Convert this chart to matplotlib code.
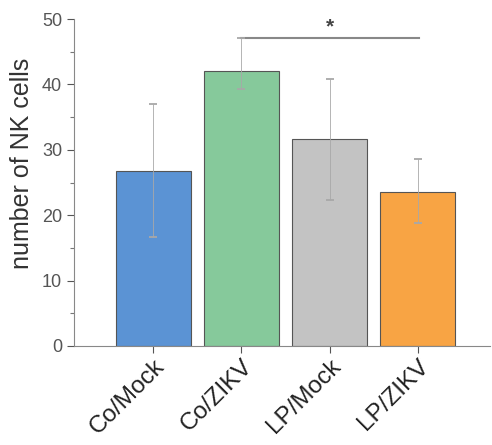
import numpy as np
import matplotlib.pyplot as plt
from matplotlib.ticker import MultipleLocator

# Data
groups = ['Co/Mock', 'Co/ZIKV', 'LP/Mock', 'LP/ZIKV']
means = [26.8, 42.0, 31.6, 23.6]
err_low = [10.2, 2.7, 9.3, 4.8]
err_high = [10.2, 5.1, 9.2, 5.0]
colors = ['#5b93d4', '#86c99b', '#c3c3c3', '#f8a444']
sig_pair = (1, 3)
sig_height = 47.1

plt.rcParams['font.family'] = ['Liberation Sans', 'DejaVu Sans']

fig = plt.figure(figsize=(4.92, 4.45), dpi=100)
ax = fig.add_axes([74 / 492, 1 - 346 / 445, (490 - 74) / 492, (346 - 19) / 445])

x = np.arange(1, len(groups) + 1)
ax.bar(x, means, width=0.85, color=colors, edgecolor='#555555', linewidth=0.8, zorder=2)
ax.errorbar(x, means, yerr=[err_low, err_high], fmt='none', ecolor='#a8a8a8',
            elinewidth=0.6, capsize=3, capthick=1.3, zorder=3)

# significance bar
x1, x2 = x[sig_pair[0]], x[sig_pair[1]]
ax.plot([x1, x2 + 0.02], [sig_height, sig_height], color='#888888', lw=1.5, clip_on=False)
ax.text((x1 + x2) / 2, sig_height + 0.3, '*', ha='center', va='bottom', fontsize=15,
        fontweight='bold', color='#444444')

ax.set_xlim(0.1, 4.82)
ax.set_ylim(0, 50)
ax.yaxis.set_major_locator(MultipleLocator(10))
ax.yaxis.set_minor_locator(MultipleLocator(5))
ax.set_xticks(x)
ax.set_xticklabels(groups, rotation=45, ha='right', va='top', rotation_mode='anchor',
                   fontsize=17.5, color='#222222')
ax.tick_params(axis='y', labelsize=13, colors='#555555', length=5, width=0.8)
ax.tick_params(axis='y', which='minor', length=3, width=0.8, colors='#777777')
ax.tick_params(axis='x', length=5, width=0.8, colors='#555555', labelcolor='#222222', pad=2)
ax.set_ylabel('number of NK cells', fontsize=18, color='#333333')
ax.yaxis.set_label_coords(-0.095, 0.56)

for s in ['top', 'right']:
    ax.spines[s].set_visible(False)
for s in ['left', 'bottom']:
    ax.spines[s].set_color('#888888')
    ax.spines[s].set_linewidth(0.8)

plt.savefig('out.png', dpi=100)
